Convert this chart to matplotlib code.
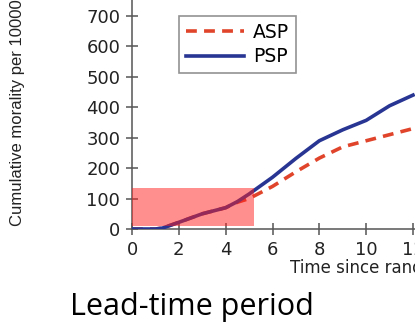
import matplotlib
matplotlib.use("Agg")
import matplotlib.pyplot as plt
from matplotlib.patches import Rectangle

# data
years = [0, 1, 1.3, 2, 3, 4, 4.5, 5, 6, 7, 8, 9, 10, 11, 12]
psp = [0, 0, 3, 22, 50, 70, 90, 115, 170, 232, 290, 326, 357, 405, 440]
asp = [0, 0, 3, 22, 50, 70, 88, 100, 140, 188, 233, 270, 290, 310, 330]
y_ticks = [0, 100, 200, 300, 400, 500, 600, 700]
x_ticks = [0, 2, 4, 6, 8, 10, 12]
lead_time = (0, 5.2, 11, 135)  # x0, x1, y0, y1

plt.rcParams['font.family'] = ['DejaVu Sans']

fig = plt.figure(figsize=(4.15, 3.25), dpi=100)
# axes spans pixel x 132..413 (0..12), y 229..16 (0..700)
W, H = 415, 325
x0_px, y0_px = 132, 229
px_per_x = (413 - 132) / 12.0
px_per_y = (229 - 16) / 700.0
xmax, ymax = 12.1, 755
ax = fig.add_axes([x0_px / W, (H - y0_px) / H,
                   xmax * px_per_x / W, ymax * px_per_y / H])

ax.plot(years, psp, color='#283593', lw=2.6, label='PSP', zorder=3)
ax.plot(years, asp, color='#e0452b', lw=2.6, ls=(0, (3, 2)), label='ASP', zorder=2)

r = Rectangle((lead_time[0], lead_time[2]), lead_time[1] - lead_time[0],
              lead_time[3] - lead_time[2], facecolor='#ff2020', alpha=0.5,
              edgecolor='none', zorder=4)
ax.add_patch(r)

ax.set_xlim(0, xmax)
ax.set_ylim(0, ymax)
ax.set_xticks(x_ticks)
ax.set_yticks(y_ticks)
ax.tick_params(direction='inout', length=9, width=1.1, colors='#555555',
               labelcolor='#222222', labelsize=13)
ax.tick_params(axis='y', pad=4)
ax.tick_params(axis='x', pad=4)
for s in ['top', 'right']:
    ax.spines[s].set_visible(False)
for s in ['left', 'bottom']:
    ax.spines[s].set_color('#555555')
    ax.spines[s].set_linewidth(1.1)
ax.spines['left'].set_bounds(0, ymax)

handles, labels = ax.get_legend_handles_labels()
leg = ax.legend(handles[::-1], labels[::-1], loc='upper left',
                bbox_to_anchor=((179 - x0_px) / (xmax * px_per_x), 1 - (18 - 1) / (ymax * px_per_y)),
                prop={'size': 13.5}, frameon=True, fancybox=False, handlelength=3.1,
                handletextpad=0.5, borderpad=0.35, labelspacing=0.3, borderaxespad=0)
leg.get_frame().set_edgecolor('#777777')
leg.get_frame().set_linewidth(1.2)

fig.text(18 / W, (H - 226) / H, 'Cumulative morality per 100000', rotation=90,
         ha='center', va='bottom', fontsize=12,
         family=['Liberation Sans', 'DejaVu Sans'], color='#222222')
fig.text(290 / W, (H - 273) / H, 'Time since randomization (years)',
         ha='left', va='baseline', fontsize=12, color='#222222')
fig.text(70 / W, (H - 315) / H, 'Lead-time period', ha='left', va='baseline',
         fontsize=22, family=['Open Sans', 'DejaVu Sans'], color='black')

fig.savefig('out.png', dpi=100)
